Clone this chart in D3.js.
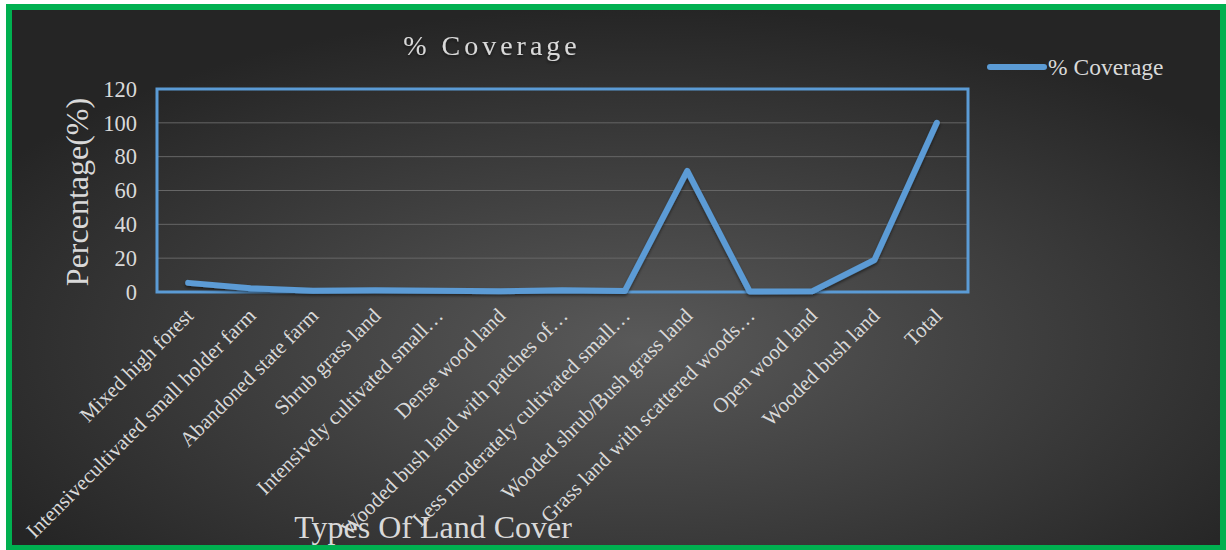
<!DOCTYPE html>
<html>
<head>
<meta charset="utf-8">
<script src="https://cdn.jsdelivr.net/npm/d3@7"></script>
<style>
  body { margin: 0; background: #fff; }
  svg { display: block; font-family: "Liberation Serif", "Times New Roman", serif; }
</style>
</head>
<body>
<svg class="container"></svg>
<script>
const categories = [
  "Mixed high forest",
  "Intensivecultivated small holder farm",
  "Abandoned state farm",
  "Shrub grass land",
  "Intensively cultivated small…",
  "Dense wood land",
  "Wooded bush land with patches of…",
  "Less moderately cultivated small…",
  "Wooded shrub/Bush grass land",
  "Grass land with scattered woods…",
  "Open wood land",
  "Wooded bush land",
  "Total"
];
const coverage = [5.4, 2.2, 0.7, 1.0, 0.8, 0.5, 1.0, 0.6, 71.6, 0.3, 0.4, 18.9, 100];
const yTicks = [0, 20, 40, 60, 80, 100, 120];

const width = 1226;
const height = 550;
const plot = { left: 157, right: 968, top: 89, bottom: 292 };
const lineColor = "#5b9bd5";
const textColor = "#d9d9d9";

const svg = d3.select(".container").attr("width", width).attr("height", height);

const defs = svg.append("defs");
const grad = defs.append("radialGradient").attr("id", "bg")
  .attr("cx", "52%").attr("cy", "62%").attr("r", "62%");
grad.append("stop").attr("offset", "0%").attr("stop-color", "#595959");
grad.append("stop").attr("offset", "100%").attr("stop-color", "#252525");

const shadow = defs.append("filter").attr("id", "shadow")
  .attr("x", "-10%").attr("y", "-10%").attr("width", "120%").attr("height", "130%");
shadow.append("feDropShadow").attr("dx", 0).attr("dy", 2).attr("stdDeviation", 1.5)
  .attr("flood-color", "#000").attr("flood-opacity", 0.5);

// background + green frame
svg.append("rect").attr("x", 9).attr("y", 7).attr("width", 1214).attr("height", 541)
  .attr("fill", "url(#bg)").attr("stroke", "#00b050").attr("stroke-width", 6);

const xScale = d3.scalePoint()
  .domain(categories)
  .range([plot.left, plot.right])
  .padding(0.5);

const yScale = d3.scaleLinear()
  .domain([0, 120])
  .range([plot.bottom, plot.top]);

// gridlines
svg.append("g")
  .selectAll("line")
  .data(yTicks.slice(1, -1))
  .join("line")
  .attr("x1", plot.left).attr("x2", plot.right)
  .attr("y1", (d) => yScale(d)).attr("y2", (d) => yScale(d))
  .attr("stroke", "#666").attr("stroke-width", 1);

// y axis labels
const yAxis = d3.axisLeft(yScale).tickValues(yTicks).tickSize(0).tickPadding(20);
svg.append("g")
  .attr("transform", `translate(${plot.left}, 0)`)
  .call(yAxis)
  .call((g) => g.select(".domain").remove())
  .selectAll("text")
  .attr("fill", textColor)
  .style("font-size", "22.5px")
  .style("font-family", "Liberation Serif");

// x axis labels
const xAxis = d3.axisBottom(xScale).tickSize(0).tickPadding(0);
svg.append("g")
  .attr("transform", `translate(0, ${plot.bottom})`)
  .call(xAxis)
  .call((g) => g.select(".domain").remove())
  .selectAll("text")
  .attr("fill", textColor)
  .style("font-size", "21px")
  .style("font-family", "Liberation Serif")
  .attr("text-anchor", "end")
  .attr("dy", 0)
  .attr("transform", "translate(6, 25) rotate(-45)");

// plot area border
svg.append("rect")
  .attr("x", plot.left).attr("y", plot.top)
  .attr("width", plot.right - plot.left).attr("height", plot.bottom - plot.top)
  .attr("fill", "none").attr("stroke", lineColor).attr("stroke-width", 3);

// line
const line = d3.line()
  .x((d, i) => xScale(categories[i]))
  .y((d) => yScale(d));

svg.append("path")
  .datum(coverage)
  .attr("d", line)
  .attr("fill", "none")
  .attr("stroke", lineColor)
  .attr("stroke-width", 6)
  .attr("stroke-linecap", "round")
  .attr("stroke-linejoin", "round")
  .attr("filter", "url(#shadow)");

// title
svg.append("text")
  .attr("x", 492).attr("y", 55)
  .attr("text-anchor", "middle")
  .attr("fill", textColor)
  .style("font-size", "28px")
  .style("letter-spacing", "4px")
  .attr("filter", "url(#shadow)")
  .text("% Coverage");

// y axis title
svg.append("text")
  .attr("transform", `translate(88, 192) rotate(-90)`)
  .attr("text-anchor", "middle")
  .attr("fill", textColor)
  .style("font-size", "32px")
  .text("Percentage(%)");

// x axis title
svg.append("text")
  .attr("x", 433).attr("y", 538)
  .attr("text-anchor", "middle")
  .attr("fill", textColor)
  .style("font-size", "32px")
  .text("Types Of Land Cover");

// legend
const legend = svg.append("g").attr("transform", "translate(990, 67)");
legend.append("line")
  .attr("x1", 0).attr("x2", 54).attr("y1", 0).attr("y2", 0)
  .attr("stroke", lineColor).attr("stroke-width", 6).attr("stroke-linecap", "round");
legend.append("text")
  .attr("x", 58).attr("y", 8)
  .attr("fill", textColor)
  .style("font-size", "23.5px")
  .text("% Coverage");
</script>
</body>
</html>
